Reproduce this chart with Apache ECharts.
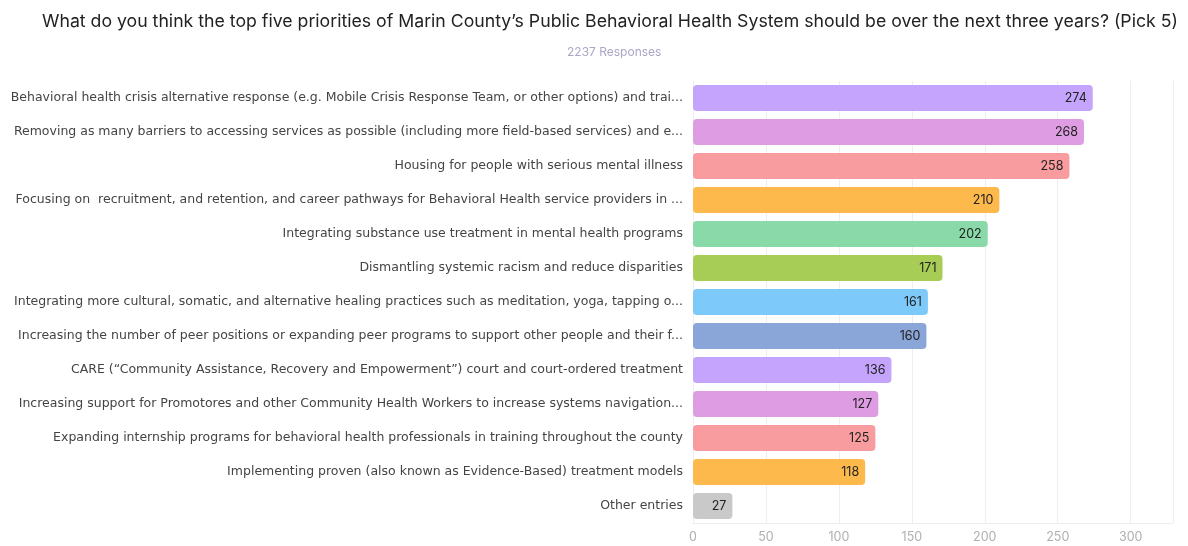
<!DOCTYPE html>
<html>
<head>
<meta charset="utf-8">
<script src="https://cdn.jsdelivr.net/npm/echarts@6/dist/echarts.min.js"></script>
<style>html,body{margin:0;padding:0;background:#fff;}#c{width:1188px;height:546px;}</style>
</head>
<body>
<div id="c"></div>
<script>
const titleText = "What do you think the top five priorities of Marin County’s Public Behavioral Health System should be over the next three years? (Pick 5)";
const subtitleText = "2237 Responses";
const categories = [
  "Behavioral health crisis alternative response (e.g. Mobile Crisis Response Team, or other options) and trai...",
  "Removing as many barriers to accessing services as possible (including more field-based services) and e...",
  "Housing for people with serious mental illness",
  "Focusing on  recruitment, and retention, and career pathways for Behavioral Health service providers in ...",
  "Integrating substance use treatment in mental health programs",
  "Dismantling systemic racism and reduce disparities",
  "Integrating more cultural, somatic, and alternative healing practices such as meditation, yoga, tapping o...",
  "Increasing the number of peer positions or expanding peer programs to support other people and their f...",
  "CARE (“Community Assistance, Recovery and Empowerment”) court and court-ordered treatment",
  "Increasing support for Promotores and other Community Health Workers to increase systems navigation...",
  "Expanding internship programs for behavioral health professionals in training throughout the county",
  "Implementing proven (also known as Evidence-Based) treatment models",
  "Other entries"
];
const values = [274, 268, 258, 210, 202, 171, 161, 160, 136, 127, 125, 118, 27];
const colors = ["#c4a4fc", "#de9de2", "#f99c9f", "#fdb94c", "#8ad9a8", "#a8cd56", "#7dcafa", "#8aa5d8", "#c4a4fc", "#de9de2", "#f99c9f", "#fdb94c", "#c9c9c9"];
const xTicks = [0, 50, 100, 150, 200, 250, 300];

const chart = echarts.init(document.getElementById('c'));
chart.setOption({
  animation: false,
  title: [{
    text: titleText, left: 37, top: 8,
    textStyle: {fontFamily: 'Inter', fontSize: 17.7, fontWeight: 'normal', color: '#222'}
  }, {
    text: subtitleText, left: 562, top: 41,
    textStyle: {fontFamily: 'Inter', fontSize: 12, fontWeight: 'normal', color: '#aaa7c6'}
  }],
  grid: {left: 693, right: 15, top: 81, bottom: 23, containLabel: false},
  xAxis: {
    type: 'value', min: 0, max: 329, interval: 50,
    axisLine: {show: true, lineStyle: {color: '#eeeeee'}},
    axisTick: {show: false},
    splitLine: {show: true, lineStyle: {color: '#eeeeee'}},
    axisLabel: {
      color: '#b0b0b0', fontFamily: 'Inter', fontSize: 12.5, margin: 8,
      showMaxLabel: false,
      formatter: v => xTicks.includes(v) ? String(v) : ''
    }
  },
  yAxis: {
    type: 'category', data: categories, inverse: true,
    axisLine: {show: false}, axisTick: {show: false},
    axisLabel: {color: '#444', fontFamily: 'DejaVu Sans', fontSize: 12.5, margin: 10}
  },
  series: [{
    type: 'bar',
    data: values.map((v, i) => ({value: v, itemStyle: {color: colors[i]}})),
    barWidth: 26,
    itemStyle: {borderRadius: 4},
    label: {
      show: true, position: 'insideRight', distance: 6,
      color: '#222', fontFamily: 'Inter', fontSize: 12.5
    }
  }]
});
</script>
</body>
</html>
